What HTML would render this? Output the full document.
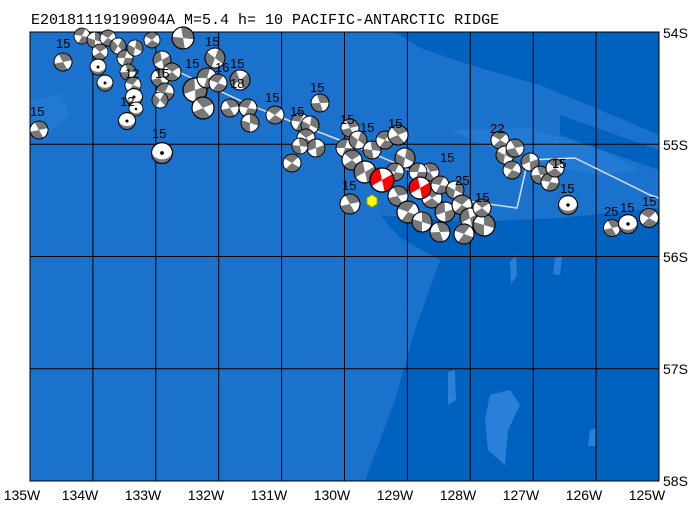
<!DOCTYPE html>
<html><head><style>body{margin:0;background:#fff}svg{display:block}</style></head><body>
<svg width="699" height="509" viewBox="0 0 699 509" font-family="Liberation Sans, sans-serif">
<defs>
<g id="b"><circle r="10" fill="#fff"/><path d="M0 0L10 0A10 10 0 0 1 -3 9.5Z M0 0L-10 0A10 10 0 0 1 3 -9.5Z" fill="#777"/><circle r="10" fill="none" stroke="#000" stroke-width="1.1"/></g>
<g id="e"><circle r="10" fill="#777"/><ellipse cx="0" cy="-1.5" rx="9.6" ry="7.5" fill="#fff"/><circle r="1.8" fill="#000"/><circle r="10" fill="none" stroke="#000" stroke-width="1.1"/></g>
<g id="r"><circle r="10" fill="#fff"/><path d="M0 0L10 0A10 10 0 0 1 -3 9.5Z M0 0L-10 0A10 10 0 0 1 3 -9.5Z" fill="#f00"/><circle r="10" fill="none" stroke="#000" stroke-width="1.1"/></g>
</defs>
<rect x="30" y="32" width="629" height="449" fill="#1a72cc"/>
<g fill="#0062be">
<path d="M395 32 L659 32 L659 135 L600 110 L540 85 L470 65 L420 48Z"/>
<path d="M560 115 L659 150 L659 170 L560 135Z"/>
<path d="M380 215 L470 222 L560 218 L659 208 L659 481 L365 481 L395 400 L415 330 L440 260 L400 238Z"/>
</g>
<g fill="#2a80d8">
<path d="M450 130 L530 128 L600 150 L640 170 L600 175 L520 160Z" opacity="0.6"/>
<path d="M30 100 L60 95 L70 115 L40 140 L30 130Z" opacity="0.5"/>
<path d="M510 262 L516 255 L517 275 L511 284Z"/><path d="M448 372 L455 370 L456 400 L448 405Z"/><path d="M490 395 L510 390 L520 405 L508 430 L505 465 L488 450 L485 420Z"/><path d="M590 430 L596 428 L596 446 L588 446Z"/><path d="M555 258 L562 256 L560 275 L553 274Z"/>
</g>
<g stroke="#000" stroke-width="1">
<line x1="92.9" y1="32" x2="92.9" y2="481"/><line x1="155.8" y1="32" x2="155.8" y2="481"/><line x1="218.7" y1="32" x2="218.7" y2="481"/><line x1="281.6" y1="32" x2="281.6" y2="481"/><line x1="344.5" y1="32" x2="344.5" y2="481"/><line x1="407.4" y1="32" x2="407.4" y2="481"/><line x1="470.3" y1="32" x2="470.3" y2="481"/><line x1="533.2" y1="32" x2="533.2" y2="481"/><line x1="596.1" y1="32" x2="596.1" y2="481"/>
<line x1="30" y1="144.3" x2="659" y2="144.3"/><line x1="30" y1="256.5" x2="659" y2="256.5"/><line x1="30" y1="368.8" x2="659" y2="368.8"/>
</g>
<polyline points="170,68 250,105 300,125 345,142 400,165 460,200 517,208 528,160 575,158 650,195 659,198" fill="none" stroke="#dde" stroke-width="1.5"/>
<rect x="30" y="32" width="629" height="449" fill="none" stroke="#000"/>
<g>
<use href="#b" transform="translate(63,62) rotate(60) scale(0.9)"/>
<use href="#b" transform="translate(82,36) rotate(10) scale(0.8)"/><use href="#b" transform="translate(95,40) rotate(90) scale(0.8)"/><use href="#b" transform="translate(108,38) rotate(30) scale(0.8)"/><use href="#b" transform="translate(118,46) rotate(120) scale(0.8)"/><use href="#b" transform="translate(100,52) rotate(40) scale(0.8)"/><use href="#b" transform="translate(125,58) rotate(0) scale(0.8)"/>
<use href="#e" transform="translate(98,67) scale(0.8)"/><use href="#e" transform="translate(105,83) scale(0.8)"/>
<use href="#b" transform="translate(128,72) rotate(70) scale(0.8)"/><use href="#b" transform="translate(133,85) rotate(20) scale(0.8)"/>
<use href="#e" transform="translate(134,97) scale(0.85)"/><use href="#e" transform="translate(136,109) scale(0.7)"/><use href="#e" transform="translate(127,121) scale(0.85)"/>
<use href="#b" transform="translate(135,48) rotate(100) scale(0.8)"/><use href="#b" transform="translate(152,40) rotate(30) scale(0.8)"/>
<use href="#b" transform="translate(162,60) rotate(-30) scale(0.9)"/><use href="#b" transform="translate(160,78) rotate(60) scale(0.9)"/><use href="#b" transform="translate(165,92) rotate(10) scale(0.9)"/><use href="#b" transform="translate(160,100) rotate(120) scale(0.8)"/><use href="#b" transform="translate(172,72) rotate(40) scale(0.9)"/>
<use href="#b" transform="translate(183,38) rotate(80) scale(1.1)"/><use href="#b" transform="translate(195,90) rotate(-20) scale(1.2)"/><use href="#b" transform="translate(203,108) rotate(50) scale(1.1)"/><use href="#b" transform="translate(207,78) rotate(0) scale(1)"/>
<use href="#b" transform="translate(215,58) rotate(110) scale(1)"/><use href="#b" transform="translate(218,83) rotate(20) scale(0.9)"/><use href="#b" transform="translate(240,80) rotate(-40) scale(1)"/>
<use href="#b" transform="translate(230,108) rotate(60) scale(0.9)"/><use href="#b" transform="translate(248,108) rotate(10) scale(0.9)"/><use href="#b" transform="translate(250,123) rotate(90) scale(0.9)"/><use href="#b" transform="translate(275,115) rotate(30) scale(0.9)"/>
<use href="#b" transform="translate(39,130) rotate(60) scale(0.9)"/><use href="#e" transform="translate(162,153) scale(1.05)"/>
<use href="#b" transform="translate(320,103) rotate(70) scale(0.9)"/><use href="#b" transform="translate(300,122) rotate(10) scale(0.9)"/><use href="#b" transform="translate(310,125) rotate(100) scale(0.9)"/><use href="#b" transform="translate(306,138) rotate(40) scale(0.9)"/><use href="#b" transform="translate(316,148) rotate(-20) scale(0.9)"/><use href="#b" transform="translate(300,146) rotate(80) scale(0.8)"/><use href="#b" transform="translate(292,163) rotate(30) scale(0.9)"/>
<use href="#b" transform="translate(350,128) rotate(60) scale(0.9)"/><use href="#b" transform="translate(345,148) rotate(0) scale(0.9)"/><use href="#b" transform="translate(358,140) rotate(110) scale(0.9)"/><use href="#b" transform="translate(352,160) rotate(40) scale(1)"/><use href="#b" transform="translate(365,172) rotate(-30) scale(1.1)"/><use href="#b" transform="translate(372,150) rotate(80) scale(0.9)"/><use href="#b" transform="translate(385,140) rotate(20) scale(0.9)"/><use href="#b" transform="translate(398,135) rotate(50) scale(1)"/><use href="#b" transform="translate(405,158) rotate(100) scale(1)"/><use href="#b" transform="translate(395,172) rotate(10) scale(0.9)"/>
<use href="#b" transform="translate(398,196) rotate(60) scale(1)"/><use href="#b" transform="translate(408,212) rotate(20) scale(1.1)"/><use href="#b" transform="translate(422,222) rotate(90) scale(1)"/><use href="#b" transform="translate(432,198) rotate(40) scale(1)"/><use href="#b" transform="translate(445,212) rotate(-20) scale(1)"/><use href="#b" transform="translate(430,172) rotate(60) scale(0.9)"/><use href="#b" transform="translate(440,185) rotate(10) scale(0.9)"/><use href="#b" transform="translate(455,190) rotate(100) scale(0.9)"/><use href="#b" transform="translate(462,205) rotate(30) scale(1)"/><use href="#b" transform="translate(470,218) rotate(-30) scale(1)"/><use href="#b" transform="translate(440,232) rotate(70) scale(1)"/><use href="#b" transform="translate(464,234) rotate(20) scale(1)"/><use href="#b" transform="translate(484,225) rotate(90) scale(1.1)"/><use href="#b" transform="translate(482,208) rotate(40) scale(0.9)"/><use href="#b" transform="translate(418,172) rotate(0) scale(0.9)"/>
<use href="#b" transform="translate(350,204) rotate(60) scale(1)"/>
<use href="#b" transform="translate(500,140) rotate(30) scale(0.9)"/><use href="#b" transform="translate(505,155) rotate(100) scale(0.9)"/><use href="#b" transform="translate(512,170) rotate(20) scale(0.9)"/><use href="#b" transform="translate(515,148) rotate(60) scale(0.9)"/><use href="#b" transform="translate(530,162) rotate(-20) scale(0.9)"/><use href="#b" transform="translate(540,175) rotate(70) scale(0.9)"/><use href="#b" transform="translate(550,182) rotate(10) scale(0.9)"/><use href="#b" transform="translate(555,168) rotate(40) scale(0.9)"/>
<use href="#e" transform="translate(568,205) scale(0.95)"/><use href="#b" transform="translate(612,228) rotate(60) scale(0.85)"/><use href="#e" transform="translate(628,224) scale(0.95)"/><use href="#b" transform="translate(649,218) rotate(30) scale(0.95)"/>
<use href="#r" transform="translate(382,180) rotate(-30) scale(1.2)"/><use href="#r" transform="translate(420,188) rotate(-30) scale(1.1)"/>
</g>
<polygon points="372,195 377,198 377,204 372,207 367,204 367,198" fill="#ff0" stroke="#aa0"/>
<g font-size="13" fill="#000">
<text x="56" y="48">15</text><text x="30" y="116">15</text><text x="152" y="138">15</text><text x="205" y="46">15</text><text x="230" y="68">15</text><text x="265" y="102">15</text><text x="310" y="92">15</text><text x="290" y="116">15</text><text x="340" y="124">15</text><text x="360" y="132">15</text><text x="388" y="128">15</text><text x="440" y="162">15</text><text x="342" y="190">15</text><text x="475" y="202">15</text><text x="490" y="133">22</text><text x="552" y="168">15</text><text x="560" y="193">15</text><text x="604" y="216">25</text><text x="620" y="212">15</text><text x="642" y="206">15</text><text x="455" y="185">25</text><text x="120" y="106">12</text><text x="155" y="78">15</text><text x="125" y="78">12</text><text x="185" y="68">15</text><text x="215" y="72">16</text><text x="230" y="88">18</text>
</g>
<text x="31" y="24" font-size="15" font-family="Liberation Mono, monospace">E20181119190904A M=5.4 h= 10 PACIFIC-ANTARCTIC RIDGE</text>
<g font-size="14" fill="#000">
<text x="663" y="38">54S</text><text x="663" y="150">55S</text><text x="663" y="262">56S</text><text x="663" y="374">57S</text><text x="663" y="486">58S</text>
</g>
<g font-size="14" fill="#000" text-anchor="middle">
<text x="22" y="500">135W</text><text x="80" y="500">134W</text><text x="143" y="500">133W</text><text x="206" y="500">132W</text><text x="269" y="500">131W</text><text x="332" y="500">130W</text><text x="395" y="500">129W</text><text x="458" y="500">128W</text><text x="521" y="500">127W</text><text x="584" y="500">126W</text><text x="647" y="500">125W</text>
</g>
</svg>
</body></html>
